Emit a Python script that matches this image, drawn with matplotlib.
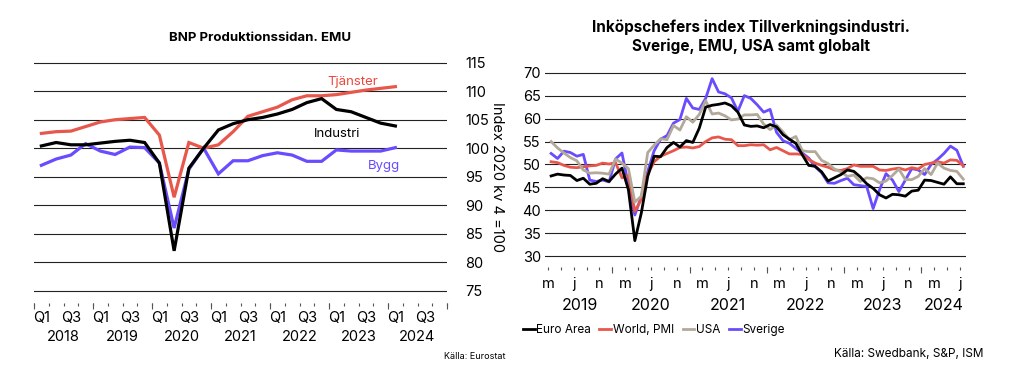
import numpy as np
import matplotlib.pyplot as plt

plt.rcParams['font.family'] = ['Inter', 'DejaVu Sans']

# --- BNP Produktionssidan, EMU (quarterly, 2018Q1 - 2024Q1) ---
quarters = np.arange(25)
tjanster = [102.6, 102.9, 103.0, 103.8, 104.6, 105.0, 105.2, 105.4, 102.3, 91.4, 101.0, 100.0, 100.6,
            102.9, 105.6, 106.4, 107.2, 108.5, 109.2, 109.2, 109.4, 109.8, 110.2, 110.5, 110.8]
industri = [100.4, 101.0, 100.6, 100.6, 100.9, 101.2, 101.4, 101.0, 97.4, 82.0, 96.5, 100.0, 103.2,
            104.3, 105.0, 105.4, 106.0, 106.8, 108.0, 108.7, 106.8, 106.4, 105.4, 104.4, 103.9]
bygg = [97.0, 98.1, 98.8, 100.8, 99.5, 98.9, 100.2, 100.1, 97.4, 86.0, 96.3, 100.0, 95.5,
        97.8, 97.8, 98.7, 99.2, 98.8, 97.7, 97.7, 99.7, 99.5, 99.5, 99.5, 100.1]
q_labels = ["Q1", "Q3"] * 7
years_left = ["2018", "2019", "2020", "2021", "2022", "2023", "2024"]

# --- PMI (monthly, Mar 2019 - Jul 2024) ---
months = np.arange(2, 67) + 0.5
euro_area = [47.5, 47.9, 47.7, 47.6, 46.5, 47.0, 45.7, 45.9, 46.9, 46.3,
             47.9, 49.2, 44.5, 33.4, 39.4, 47.4, 51.8, 51.7, 53.7, 54.8, 53.8, 55.2,
             54.8, 57.9, 62.5, 62.9, 63.1, 63.4, 62.8, 61.4, 58.6, 58.3, 58.4, 58.0,
             58.7, 58.2, 56.5, 55.5, 54.6, 52.1, 49.8, 49.6, 48.4, 46.4, 47.1, 47.8,
             48.8, 48.5, 47.3, 45.8, 44.8, 43.4, 42.7, 43.5, 43.4, 43.1, 44.2, 44.4,
             46.6, 46.5, 46.1, 45.7, 47.3, 45.8, 45.8]
world = [50.6, 50.4, 49.8, 49.4, 49.3, 49.5, 49.7, 49.8, 50.3, 50.1,
         50.4, 47.1, 47.6, 39.8, 42.4, 47.9, 50.6, 51.8, 52.4, 53.0, 53.7, 53.8,
         53.6, 53.9, 55.0, 55.8, 56.0, 55.5, 55.4, 54.1, 54.1, 54.3, 54.2, 54.3,
         53.2, 53.7, 53.0, 52.3, 52.3, 52.2, 51.1, 50.3, 49.8, 49.4, 48.8, 48.7,
         49.1, 49.9, 49.6, 49.6, 49.6, 48.8, 48.7, 49.0, 49.2, 48.8, 49.3, 49.0,
         50.0, 50.3, 50.6, 50.3, 51.0, 50.9, 49.7]
usa = [55.0, 53.6, 52.5, 51.5, 50.8, 48.8, 48.1, 48.2, 48.1, 47.9,
       51.2, 50.3, 49.1, 41.8, 43.1, 52.6, 54.2, 55.6, 55.4, 58.5, 57.5, 60.4,
       59.2, 60.9, 63.9, 61.0, 61.2, 60.6, 59.7, 59.9, 60.8, 60.8, 60.9, 58.8,
       57.6, 58.6, 57.1, 55.4, 56.1, 53.0, 52.8, 52.8, 50.9, 50.2, 49.0, 48.4,
       47.4, 47.7, 46.3, 47.1, 46.9, 46.0, 46.4, 47.6, 49.0, 46.7, 46.7, 47.4,
       49.1, 47.8, 50.3, 49.2, 48.7, 48.5, 46.8]
sverige = [52.4, 51.3, 52.9, 52.6, 51.8, 52.2, 46.6, 46.3, 46.6, 46.2,
           51.2, 52.5, 45.5, 39.0, 43.0, 48.5, 53.0, 55.5, 56.3, 59.0, 59.8, 64.4,
           62.3, 62.0, 64.4, 68.7, 65.8, 65.4, 64.5, 61.6, 65.0, 64.4, 63.0, 61.4,
           62.0, 57.0, 55.2, 54.6, 53.5, 52.5, 51.4, 49.5, 48.2, 46.0, 45.9, 46.5,
           47.0, 45.6, 45.4, 45.2, 40.4, 44.5, 48.0, 46.6, 44.1, 46.6, 49.1, 48.8,
           47.8, 50.0, 51.1, 52.4, 54.0, 53.1, 49.6]
month_letters = ["m", "j", "n"] * 6
years_right = ["2019", "2020", "2021", "2022", "2023", "2024"]

RED = "#e8574b"
PURPLE = "#6a4cff"
GREY = "#b3a99b"
GRID = "#222222"
TICK = "#555555"

fig = plt.figure(figsize=(10.11, 3.8), dpi=100)

# ---------------- left chart ----------------
ax1 = fig.add_axes([34 / 1011, 1 - 302.7 / 380, 413 / 1011, 241.7 / 380])
ax1.set_xlim(-0.5, 27.5)
ax1.set_ylim(72.9, 115.3)
ax1.set_yticks(np.arange(75, 116, 5))
ax1.yaxis.tick_right()
ax1.tick_params(axis="y", length=0, pad=13, labelsize=10.5)
ax1.grid(axis="y", color=GRID, lw=0.8)
ax1.set_axisbelow(True)
for s in ax1.spines.values():
    s.set_visible(False)

ax1.plot(quarters, tjanster, color=RED, lw=2.3, solid_joinstyle="miter")
ax1.plot(quarters, bygg, color=PURPLE, lw=2.3, solid_joinstyle="miter")
ax1.plot(quarters, industri, color="black", lw=2.3, solid_joinstyle="miter")

ax1.set_xticks(np.arange(0, 28, 2), q_labels)
ax1.set_xticks(np.arange(-0.5, 28, 1), minor=True)
ax1.tick_params(axis="x", which="major", length=0, pad=6, labelsize=10.5)
ax1.tick_params(axis="x", which="minor", length=2, width=0.8, color=TICK)
sec1 = ax1.secondary_xaxis("bottom")
sec1.set_xticks(np.arange(-0.5, 28, 4), [""] * 8)
sec1.set_xticks(np.arange(1.5, 28, 4), years_left, minor=True)
sec1.tick_params(which="major", length=4, width=0.8, color=TICK)
sec1.tick_params(which="minor", length=0, pad=20, labelsize=10.5)
sec1.spines["bottom"].set_visible(False)

ax1.text(21.1, 111.7, "Tjänster", color="#f0463c", fontsize=9.5, ha="center", va="center")
ax1.text(20.05, 102.5, "Industri", color="black", fontsize=9.5, ha="center", va="center")
ax1.text(23.25, 96.95, "Bygg", color=PURPLE, fontsize=9.5, ha="center", va="center")

fig.text(497 / 1011, 1 - 177 / 380, "Index 2020 kv 4 =100", rotation=270, fontsize=10.5,
         ha="center", va="center")
fig.text(260.5 / 1011, 1 - 38.3 / 380, "BNP Produktionssidan. EMU", fontsize=9.5, fontweight="bold",
         ha="center", va="center")
fig.text(505 / 1011, 1 - 356.7 / 380, "Källa: Eurostat", fontsize=6.5, ha="right", va="center")

# ---------------- right chart ----------------
ax2 = fig.add_axes([545 / 1011, 1 - 267.3 / 380, 421 / 1011, 196 / 380])
ax2.set_xlim(1.55, 66.92)
ax2.set_ylim(27.6, 70.3)
ax2.set_yticks(np.arange(30, 71, 5))
ax2.tick_params(axis="y", length=0, pad=3, labelsize=10.5)
ax2.grid(axis="y", color=GRID, lw=0.8)
ax2.set_axisbelow(True)
for s in ax2.spines.values():
    s.set_visible(False)

ax2.plot(months, euro_area, color="black", lw=2.0, label="Euro Area")
ax2.plot(months, world, color=RED, lw=2.0, label="World, PMI")
ax2.plot(months, usa, color=GREY, lw=2.0, label="USA")
ax2.plot(months, sverige, color=PURPLE, lw=2.0, label="Sverige")
# keep black/grey above the others like in the source
for ln, z in zip(ax2.get_lines(), [4, 2, 3, 1]):
    ln.set_zorder(z + 2)

ax2.xaxis.remove_overlapping_locs = False
ax2.set_xticks(np.arange(2, 67, 4), month_letters[:17])
ax2.set_xticks(np.arange(2, 67, 2), minor=True)
ax2.tick_params(axis="x", which="major", length=0, pad=7, labelsize=10.5)
ax2.tick_params(axis="x", which="minor", length=2, width=0.8, color=TICK)
sec2 = ax2.secondary_xaxis("bottom")
sec2.set_xticks(np.arange(12, 61, 12), [""] * 5)
sec2.set_xticks([7, 18, 30, 42, 54, 63.45], years_right, minor=True)
sec2.tick_params(which="major", length=4, width=0.8, color=TICK)
sec2.tick_params(which="minor", length=0, pad=22, labelsize=11.5)
sec2.spines["bottom"].set_visible(False)

handles, labels = ax2.get_legend_handles_labels()
fig.legend(handles, labels, loc="center left", bbox_to_anchor=(518 / 1011, 1 - 330 / 380),
           ncol=4, frameon=False, fontsize=8.5, handlelength=1.0, handletextpad=0.15,
           columnspacing=0.7, borderaxespad=0)

fig.text(750.5 / 1011, 1 - 36.7 / 380, "Inköpschefers index Tillverkningsindustri.\nSverige, EMU, USA samt globalt",
         fontsize=11, fontweight="bold", ha="center", va="center", linespacing=1.3)
fig.text(983 / 1011, 1 - 354 / 380, "Källa: Swedbank, S&P, ISM", fontsize=8.5, ha="right", va="center")

fig.savefig("out.png", dpi=100)
